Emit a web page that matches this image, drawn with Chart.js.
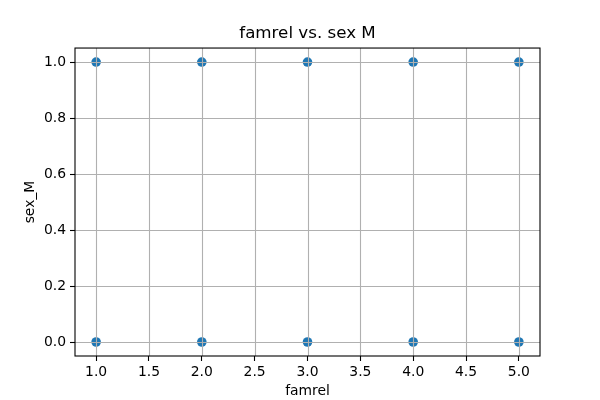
<!DOCTYPE html>
<html>
<head>
<meta charset="utf-8">
<script src="https://cdn.jsdelivr.net/npm/chart.js@4"></script>
<style>
html,body{margin:0;padding:0;background:#fff;}
#wrap{width:600px;height:400px;}
</style>
</head>
<body>
<div id="wrap"><canvas id="c" width="600" height="400"></canvas></div>
<script>
const famrel = [1, 2, 3, 4, 5, 1, 2, 3, 4, 5];
const sexM   = [1, 1, 1, 1, 1, 0, 0, 0, 0, 0];
const xTicks = [1.0, 1.5, 2.0, 2.5, 3.0, 3.5, 4.0, 4.5, 5.0];
const yTicks = [0.0, 0.2, 0.4, 0.6, 0.8, 1.0];
const titleText = 'famrel vs. sex M';
const xLabel = 'famrel';
const yLabel = 'sex_M';

const points = famrel.map((v, i) => ({x: v, y: sexM[i]}));
const FONT = 'DejaVu Sans';

const gridOnTop = {
  id: 'gridOnTop',
  afterDatasetsDraw(chart) {
    const {ctx, chartArea: a, scales} = chart;
    ctx.save();
    ctx.strokeStyle = '#b0b0b0';
    ctx.lineWidth = 1.1;
    scales.x.ticks.forEach(t => {
      const px = Math.round(scales.x.getPixelForValue(t.value)) + 0.5;
      ctx.beginPath(); ctx.moveTo(px, a.top); ctx.lineTo(px, a.bottom); ctx.stroke();
    });
    scales.y.ticks.forEach(t => {
      const py = Math.round(scales.y.getPixelForValue(t.value)) + 0.5;
      ctx.beginPath(); ctx.moveTo(a.left, py); ctx.lineTo(a.right, py); ctx.stroke();
    });
    ctx.strokeStyle = '#000';
    ctx.lineWidth = 1.1;
    ctx.strokeRect(a.left, a.top, a.right - a.left, a.bottom - a.top);
    ctx.restore();
  }
};

new Chart(document.getElementById('c'), {
  type: 'scatter',
  data: {
    datasets: [{
      data: points,
      xAxisID: 'x',
      yAxisID: 'y',
      backgroundColor: '#1f77b4',
      borderColor: '#1f77b4',
      pointRadius: 4.8,
      pointHoverRadius: 4.8,
      borderWidth: 0
    }]
  },
  options: {
    responsive: false,
    animation: false,
    layout: {padding: {left: 15, right: 0, top: 0, bottom: 0}},
    plugins: {
      legend: {display: false},
      tooltip: {enabled: false},
      title: {
        display: true,
        text: titleText,
        color: '#000',
        font: {family: FONT, size: 16.7, weight: 'normal'},
        padding: {top: 24, bottom: 4}
      }
    },
    scales: {
      x: {
        type: 'linear',
        min: 0.8, max: 5.2,
        afterBuildTicks: s => { s.ticks = xTicks.map(v => ({value: v})); },
        afterFit: s => { s.height = 44; },
        grid: {drawOnChartArea: false, tickLength: 5, tickColor: '#000', tickWidth: 1.1},
        border: {display: false},
        ticks: {
          color: '#000', font: {family: FONT, size: 13.9}, padding: 3, maxRotation: 0,
          callback: v => Number(v).toFixed(1)
        },
        title: {display: true, text: xLabel, color: '#000', font: {family: FONT, size: 13.9}, padding: {top: 0, bottom: 0}}
      },
      y: {
        type: 'linear',
        position: 'left',
        min: -0.05, max: 1.05,
        afterBuildTicks: s => { s.ticks = yTicks.map(v => ({value: v})); },
        afterFit: s => { s.width = 60; },
        grid: {drawOnChartArea: false, tickLength: 5, tickColor: '#000', tickWidth: 1.1},
        border: {display: false},
        ticks: {
          color: '#000', font: {family: FONT, size: 13.9}, padding: 4,
          callback: v => Number(v).toFixed(1)
        },
        title: {display: true, text: yLabel, color: '#000', font: {family: FONT, size: 13.9}, padding: {top: 7, bottom: 0}}
      },
      yRight: {
        type: 'linear',
        position: 'right',
        display: true,
        min: 0, max: 1,
        afterFit: s => { s.width = 60; },
        grid: {display: false, drawOnChartArea: false, drawTicks: false},
        border: {display: false},
        ticks: {display: false},
        title: {display: false}
      }
    }
  },
  plugins: [gridOnTop]
});
</script>
</body>
</html>
